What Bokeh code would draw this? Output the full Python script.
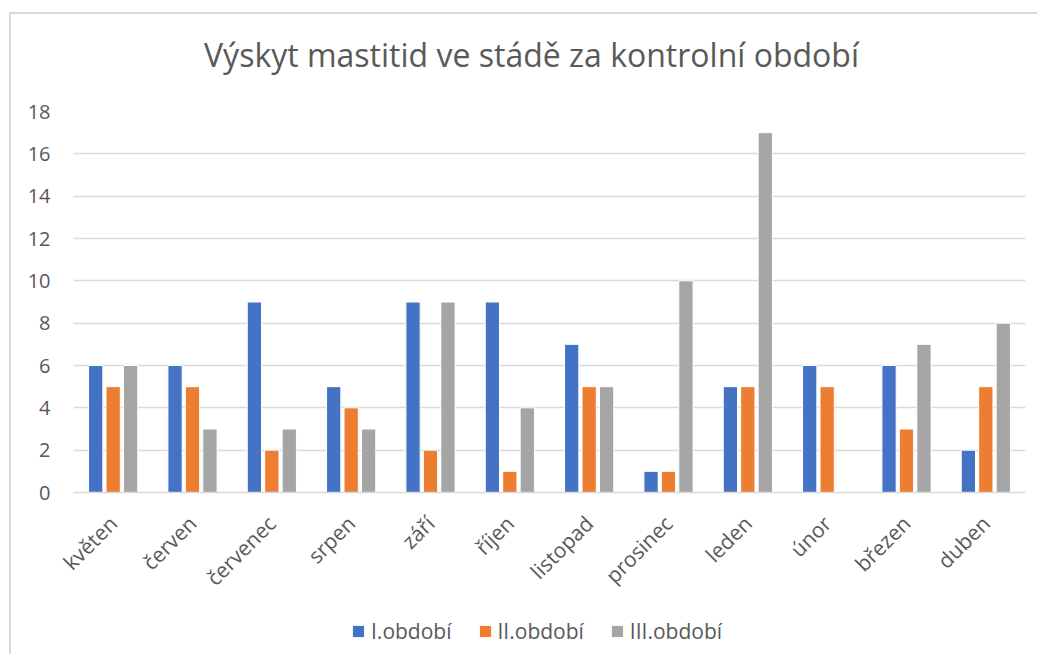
import math
from bokeh.plotting import figure
from bokeh.layouts import column
from bokeh.models import (ColumnDataSource, FactorRange, Range1d, FixedTicker,
                          Legend, LegendItem)
from bokeh.core.properties import value
from bokeh.transform import dodge
from bokeh.embed import file_html
from bokeh.resources import INLINE

months = ["květen", "červen", "červenec", "srpen", "září", "říjen",
          "listopad", "prosinec", "leden", "únor", "březen", "duben"]
obdobi_1 = [6, 6, 9, 5, 9, 9, 7, 1, 5, 6, 6, 2]
obdobi_2 = [5, 5, 2, 4, 2, 1, 5, 1, 5, 5, 3, 5]
obdobi_3 = [6, 3, 3, 3, 9, 4, 5, 10, 17, 0, 7, 8]
series_names = ["I.období", "II.období", "III.období"]
colors = ["#4472C4", "#ED7D31", "#A5A5A5"]
y_ticks = [0, 2, 4, 6, 8, 10, 12, 14, 16, 18]
title_text = "Výskyt mastitid ve stádě za kontrolní období"

source = ColumnDataSource(data=dict(month=months, s1=obdobi_1, s2=obdobi_2, s3=obdobi_3))

FONT = "Open Sans"
TXT = "#595959"
W = 1026
LEFT = 62
RIGHT = 12

# ---- title strip (frame aligned with the chart frame by the column layout) ----
TITLE_H = 80
tf = figure(x_range=Range1d(LEFT, W - RIGHT), y_range=Range1d(0, TITLE_H), width=W, height=TITLE_H,
            output_backend="svg", toolbar_location=None,
            x_axis_location=None, y_axis_location=None,
            min_border_left=LEFT, min_border_right=RIGHT, min_border_top=0, min_border_bottom=0)
tf.grid.visible = False
tf.outline_line_color = None
tf.text(x=[520], y=[TITLE_H - 40], text=[title_text], text_font=value(FONT),
        text_font_size="32px", text_color=TXT, text_align="center", text_baseline="middle")

# ---- main chart ----
p = figure(x_range=FactorRange(*months), y_range=Range1d(0, 18),
           width=W, height=516, output_backend="svg", toolbar_location=None,
           min_border_left=LEFT, min_border_right=RIGHT, min_border_top=17,
           min_border_bottom=118)

renderers = []
for col, off, c in zip(["s1", "s2", "s3"], [-0.22, 0.0, 0.22], colors):
    r = p.vbar(x=dodge("month", off, range=p.x_range), top=col, width=0.18,
               source=source, fill_color=c, line_color="white", line_width=1)
    renderers.append(r)

p.outline_line_color = None
p.xgrid.grid_line_color = None
p.ygrid.grid_line_color = "#d9d9d9"
p.ygrid.grid_line_width = 1.3
p.yaxis.ticker = FixedTicker(ticks=y_ticks)

p.yaxis.axis_line_color = None
p.yaxis.major_tick_line_color = None
p.yaxis.minor_tick_line_color = None
p.yaxis.major_label_standoff = 17
p.yaxis.major_label_text_font = FONT
p.yaxis.major_label_text_font_size = "20px"
p.yaxis.major_label_text_color = TXT

p.xaxis.axis_line_color = "#d9d9d9"
p.xaxis.axis_line_width = 1.3
p.xaxis.major_tick_line_color = None
p.xaxis.minor_tick_line_color = None
p.xaxis.major_label_orientation = math.pi / 4
p.xaxis.major_label_standoff = 21
p.xaxis.major_label_text_font = FONT
p.xaxis.major_label_text_font_size = "21px"
p.xaxis.major_label_text_color = TXT

# ---- legend strip ----
lg = figure(x_range=FactorRange(*months), y_range=Range1d(1000, 1001), width=W, height=44,
            output_backend="svg", toolbar_location=None,
            x_axis_location=None, y_axis_location=None,
            min_border_left=LEFT, min_border_right=RIGHT, min_border_top=0, min_border_bottom=0)
lg.grid.visible = False
lg.outline_line_color = None
lg_renderers = [lg.vbar(x="month", top=col, width=0.18, source=source, fill_color=c, line_color=None)
                for col, c in zip(["s1", "s2", "s3"], colors)]
legend = Legend(items=[LegendItem(label=n, renderers=[r]) for n, r in zip(series_names, lg_renderers)],
                orientation="horizontal", location=(278, 9),
                glyph_width=14, glyph_height=14, label_standoff=6, spacing=26,
                padding=0, margin=0, border_line_color=None, background_fill_alpha=0,
                label_text_font=FONT, label_text_font_size="21px", label_text_color=TXT)
lg.add_layout(legend, "center")

layout = column(tf, p, lg, spacing=0)
layout.styles = {"border-left": "2px solid #d9d9d9", "border-top": "2px solid #d9d9d9",
                 "margin-left": "9px", "margin-top": "12px"}

open("out.html", "w").write(file_html(layout, INLINE))
